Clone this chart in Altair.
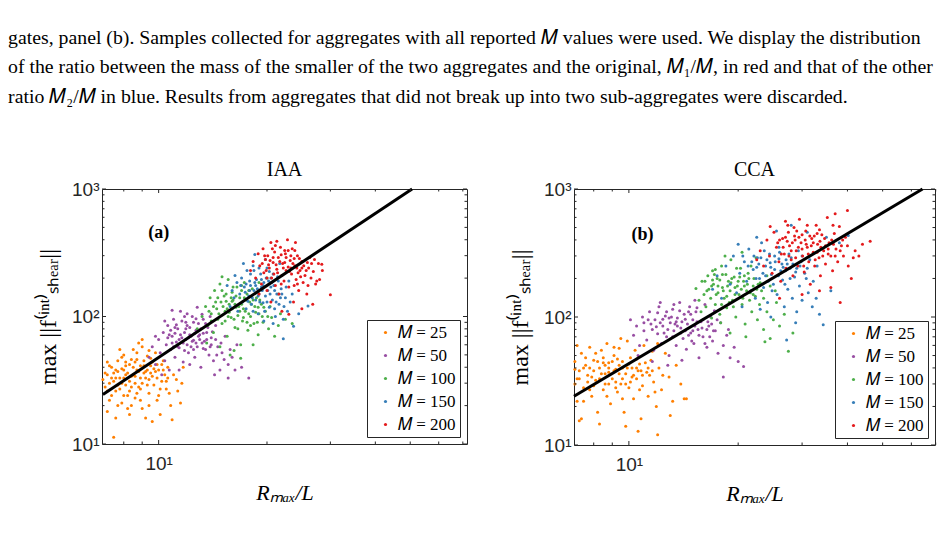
import altair as alt
import pandas as pd

# ---------------- data ----------------
groups = ["𝑀 = 25", "𝑀 = 50", "𝑀 = 100", "𝑀 = 150", "𝑀 = 200"]
colors = ["#FF7F00", "#984EA3", "#4DAF4A", "#377EB8", "#E41A1C"]

# IAA panel (a): (Rmax/L, max force)
iaa_m25 = [(7.1,28),(7.2,35),(7.3,22),(7.4,40),(7.2,18),(7.5,31),(7.6,26),(7.7,45),(7.8,33),(7.9,21),
           (8.0,38),(8.1,29),(8.0,50),(8.2,24),(8.3,42),(8.4,34),(8.3,17),(8.5,55),(8.6,30),(8.7,46),
           (8.6,23),(8.8,37),(8.9,27),(9.0,58),(9.1,41),(9.0,19),(9.2,33),(9.3,49),(9.4,25),(9.5,36),
           (9.6,44),(9.7,29),(9.8,52),(9.9,22),(10.0,38),(10.2,31),(10.3,45),(10.5,27),(10.6,40),(10.8,20),
           (11.0,35),(11.3,26),(11.6,30),(7.3,41),(7.6,16),(7.8,55),(8.1,44),(8.4,20),(8.8,62),(9.2,16),
           (9.6,15),(10.1,17),(7.5,11.3),(10.9,15.5),(11.5,21),(11.7,40),(8.2,36),(8.5,40),(8.9,33),(9.1,45),
           (9.3,38),(9.6,34),(8.4,28),(7.9,30),(7.7,37),(9.9,42),(10.4,35),(8.7,25),(9.0,66),(7.4,24),
           (7.2,26),(7.4,33),(7.6,38),(7.8,27),(8.0,33),(8.1,41),(8.3,31),(8.5,35),(8.6,44),(8.7,38),
           (8.9,41),(9.0,30),(9.2,37),(9.4,32),(9.5,47),(9.7,39),(9.9,33),(10.1,27),(10.3,38),(10.6,33),
           (7.3,30),(7.7,20),(8.2,19),(8.9,22),(9.4,20),(10.0,24),(10.7,25),(11.2,32),(7.1,36),(7.9,48),
           (7.0,32),(7.2,44),(7.5,36),(7.7,29),(7.9,39),(8.1,35),(8.3,26),(8.4,46),(8.6,34),(8.8,28),
           (9.1,36),(9.3,29),(9.5,41),(9.8,37),(10.2,42),(10.5,31),(7.6,33),(8.0,24),(8.7,52),(9.4,54)]
iaa_m50 = [(9.4,48),(9.6,58),(9.8,42),(10.0,66),(10.1,52),(10.3,75),(10.4,45),(10.5,60),(10.6,85),(10.7,38),
           (10.8,55),(10.9,70),(11.0,95),(11.1,48),(11.2,63),(11.3,80),(11.4,57),(11.5,110),(11.6,68),(11.7,44),
           (11.8,75),(11.9,90),(12.0,60),(12.1,52),(12.2,82),(12.3,70),(12.4,100),(12.5,65),(12.6,48),(12.7,78),
           (12.8,58),(12.9,88),(13.0,72),(13.1,40),(13.2,62),(13.3,95),(13.5,55),(13.6,75),(13.8,50),(14.0,68),
           (14.2,45),(14.4,85),(14.6,58),(14.8,38),(15.0,52),(15.3,70),(15.6,42),(15.6,33),(16.0,48),(16.5,60),
           (17.0,40),(17.8,33),(10.2,35),(10.9,112),(12.8,118),(13.9,100),(11.4,38),(12.2,42),(14.3,35),(9.8,70),
           (11.9,66),(12.6,74),(11.3,58),(13.4,64),(12.0,85),
           (10.6,68),(10.8,78),(11.0,58),(11.2,86),(11.5,72),(11.7,62),(11.8,100),(12.1,68),(12.3,58),(12.5,90),
           (12.7,62),(12.9,70),(13.1,80),(13.3,56),(13.6,66),(13.9,58),(14.1,76),(14.5,50),(11.1,82),(10.4,92),
           (12.0,105),(13.5,88),(14.9,62),(15.2,46),(16.3,38),
           (10.9,62),(11.1,74),(11.4,66),(11.6,92),(11.9,80),(12.2,72),(12.4,64),(12.7,96),(13.0,66),(13.3,74),
           (13.7,82),(14.0,60),(14.4,66),(12.5,55),(11.8,54),(10.7,72),(13.2,104),(15.8,55)]
iaa_m100 = [(13.2,100),(13.5,120),(13.7,85),(13.9,140),(14.0,105),(14.2,75),(14.3,160),(14.5,115),(14.6,95),(14.8,180),
            (14.9,130),(15.0,88),(15.2,145),(15.3,110),(15.5,70),(15.6,195),(15.7,125),(15.9,98),(16.0,155),(16.1,135),
            (16.3,82),(16.4,118),(16.5,170),(16.6,102),(16.8,140),(16.9,60),(17.0,125),(17.1,92),(17.3,185),(17.4,110),
            (17.6,150),(17.7,78),(17.9,130),(18.0,100),(18.2,165),(18.4,88),(18.5,120),(18.7,140),(18.9,72),(19.0,105),
            (19.3,125),(19.5,90),(19.8,110),(20.2,80),(20.6,98),(21.0,70),(21.5,85),(22.5,95),(23.5,88),(16.9,47),
            (16.2,54),(13.6,62),(14.8,58),(15.8,50),(12.8,80),(18.3,60),(20.0,200),(19.0,185),(15.0,205),(21.5,150),
            (16.0,115),(17.2,98),(15.4,132),
            (14.4,130),(14.7,105),(15.1,120),(15.4,150),(15.7,108),(16.0,132),(16.2,95),(16.4,145),(16.7,120),(17.0,160),
            (17.2,115),(17.5,135),(17.8,105),(18.1,125),(18.6,108),(19.1,135),(19.6,118),(20.1,100),(15.3,92),(16.6,80),
            (17.6,90),(14.0,92),(18.8,90),(13.8,110),
            (14.6,140),(15.0,160),(15.5,115),(15.9,140),(16.3,125),(16.8,110),(17.3,140),(17.8,160),(18.3,135),(18.9,118),
            (19.4,100),(16.1,170),(17.0,175),(15.6,100),(20.4,120),(18.0,85),(14.2,120),(21.8,105)]
iaa_m150 = [(15.8,120),(16.0,160),(16.2,140),(16.5,185),(16.6,110),(16.8,150),(17.0,200),(17.1,130),(17.3,170),(17.5,115),
            (17.6,230),(17.8,145),(18.0,175),(18.1,125),(18.3,250),(18.4,160),(18.6,135),(18.7,195),(18.9,105),(19.0,150),
            (19.2,215),(19.3,170),(19.5,128),(19.6,185),(19.8,145),(20.0,240),(20.1,160),(20.3,118),(20.5,200),(20.7,135),
            (20.9,175),(21.1,100),(21.3,150),(21.6,125),(21.9,165),(22.2,95),(22.5,140),(22.8,110),(23.2,130),(23.7,84),
            (22.2,67),(24.5,105),(26.0,121),(18.5,307),(17.2,260),(19.8,280),(16.3,210),(15.5,175),(20.8,88),(19.6,92),
            (21.7,260),(23.0,190),(18.8,165),(20.2,190),
            (17.4,155),(17.9,190),(18.2,140),(18.6,175),(19.1,130),(19.4,160),(19.9,200),(20.4,150),(20.8,215),(21.2,130),
            (21.5,190),(22.0,150),(18.0,215),(19.0,240),(20.5,170),(17.7,132),(22.6,170),(21.0,115),(19.7,110),(18.3,110),
            (17.9,160),(18.5,185),(18.9,145),(19.5,175),(20.0,130),(20.6,185),(21.0,160),(21.8,140),(19.3,195),(18.4,230),
            (20.3,225),(22.3,120),(17.5,180),(23.5,150),(16.9,175),(21.4,205)]
iaa_m200 = [(18.0,230),(18.3,270),(18.6,200),(18.9,310),(19.1,250),(19.3,180),(19.5,340),(19.6,220),(19.8,280),(20.0,160),
            (20.1,300),(20.3,240),(20.5,380),(20.6,200),(20.8,265),(21.0,320),(21.1,175),(21.3,235),(21.5,290),(21.6,150),
            (21.8,350),(22.0,210),(22.1,260),(22.3,190),(22.5,310),(22.6,230),(22.8,400),(23.0,170),(23.2,275),(23.4,215),
            (23.5,340),(23.7,130),(23.9,250),(24.1,195),(24.3,300),(24.5,160),(24.7,230),(25.0,270),(25.2,185),(25.5,210),
            (25.8,150),(26.1,240),(26.5,200),(26.8,125),(27.3,180),(27.8,260),(28.5,230),(30.0,148),(28.0,195),(26.3,290),
            (24.0,380),(21.3,390),(22.0,110),(23.0,104),(25.0,115),(19.0,150),(20.5,130),(28.4,257),(27.5,190),(22.9,245),
            (19.4,260),(19.9,230),(20.4,275),(20.9,215),(21.2,255),(21.7,270),(22.2,240),(22.6,290),(23.1,225),(23.6,260),
            (24.2,240),(24.8,205),(25.3,250),(25.7,230),(26.6,260),(21.9,180),(23.3,300),(20.7,340),(22.4,330),(24.6,285),
            (23.8,175),(26.0,175),
            (19.7,300),(20.2,255),(20.8,290),(21.4,220),(21.9,305),(22.4,265),(22.9,330),(23.3,240),(23.8,285),(24.4,220),
            (25.0,240),(25.9,265),(26.9,225),(20.0,200),(21.1,360),(23.9,330),(27.1,280),(24.3,180)]

# CCA panel (b)
cca_m25 = [(7.1,30),(7.1,45),(7.2,22),(7.3,38),(7.4,52),(7.4,16),(7.5,28),(7.6,42),(7.7,35),(7.8,58),
           (7.9,24),(8.0,46),(8.1,32),(8.2,18),(8.3,40),(8.4,55),(8.5,27),(8.6,36),(8.7,62),(8.8,44),
           (8.9,21),(9.0,33),(9.1,50),(9.2,39),(9.3,26),(9.4,57),(9.5,30),(9.6,45),(9.7,18),(9.8,36),
           (9.9,65),(10.0,28),(10.1,48),(10.2,40),(10.3,23),(10.4,55),(10.5,33),(10.7,43),(10.8,16),(10.9,29),
           (11.0,60),(11.2,37),(11.3,24),(11.5,46),(11.7,31),(11.9,20),(12.1,40),(12.3,27),(12.6,52),(12.9,34),
           (13.2,22),(13.5,42),(13.9,30),(14.4,23),(12.0,12.0),(10.6,12.8),(8.3,14.6),(7.3,15.5),(9.8,14),(13.0,17),
           (10.6,38),(8.8,30),(9.4,42),(7.9,34),(11.6,54),(12.0,62),(9.5,68),(7.2,60),(8.5,48),(14.2,23),
           (7.3,33),(7.6,48),(7.8,40),(8.0,29),(8.2,45),(8.4,36),(8.6,42),(8.8,37),(9.0,45),(9.2,31),
           (9.4,36),(9.6,40),(9.8,30),(10.0,43),(10.3,35),(10.5,47),(10.8,38),(11.1,44),(11.4,35),(8.1,52),
           (7.5,22),(8.7,24),(9.6,23),(10.7,27),(12.4,35),(11.8,26),(7.1,39),(9.1,58),
           (7.2,33),(7.5,40),(7.7,31),(8.0,38),(8.3,33),(8.5,44),(8.8,40),(9.1,38),(9.3,47),(9.6,33),
           (9.9,40),(10.2,34),(10.5,40),(10.9,35),(11.3,40),(8.6,30),(9.2,28),(10.1,31),(7.8,27),(11.6,38)]
cca_m50 = [(10.1,95),(10.3,72),(10.5,85),(10.7,60),(10.9,100),(11.0,78),(11.2,66),(11.4,110),(11.5,88),(11.7,55),
           (11.8,95),(12.0,74),(12.1,120),(12.3,62),(12.4,85),(12.6,102),(12.7,70),(12.9,50),(13.0,90),(13.2,115),
           (13.3,78),(13.5,60),(13.6,98),(13.8,130),(13.9,82),(14.1,68),(14.2,105),(14.4,56),(14.5,88),(14.7,120),
           (14.8,75),(15.0,95),(15.1,62),(15.3,110),(15.5,80),(15.6,48),(15.8,92),(16.0,70),(16.2,125),(16.4,58),
           (16.6,85),(16.8,100),(17.0,65),(17.3,78),(17.6,52),(17.9,90),(18.2,60),(18.6,72),(19.0,48),(19.5,58),
           (20.0,45),(20.7,41),(11.6,45),(12.8,42),(14.0,46),(17.2,112),(18.8,80),(12.2,130),(15.2,135),(10.6,50),
           (18.2,34),(13.4,88),(14.6,72),
           (11.6,80),(12.2,90),(12.5,75),(12.9,98),(13.2,70),(13.6,85),(14.0,92),(14.3,78),(14.8,105),(15.2,85),
           (15.6,72),(16.0,95),(16.4,80),(16.9,88),(12.0,108),(13.8,112),(15.4,118),(11.0,90),(17.5,95),(16.2,62),
           (11.3,95),(11.9,84),(12.4,96),(12.8,80),(13.1,100),(13.5,92),(13.9,75),(14.3,96),(14.6,110),(15.0,78),
           (15.4,92),(15.9,82),(16.5,92),(17.1,78),(12.7,110),(14.9,65),(16.7,70),(13.3,125)]
cca_m100 = [(15.3,167),(15.6,135),(15.9,190),(16.1,150),(16.3,120),(16.5,210),(16.6,165),(16.8,140),(17.0,230),(17.1,180),
            (17.3,125),(17.5,200),(17.6,155),(17.8,105),(18.0,250),(18.1,170),(18.3,140),(18.5,215),(18.6,118),(18.8,190),
            (19.0,160),(19.1,280),(19.3,135),(19.5,205),(19.7,100),(19.9,175),(20.1,150),(20.3,240),(20.5,125),(20.7,190),
            (20.9,88),(21.1,160),(21.3,220),(21.5,135),(21.8,110),(22.0,175),(22.3,145),(22.6,95),(22.9,125),(23.2,160),
            (23.5,80),(23.7,64),(24.0,110),(24.5,68),(25.0,95),(25.5,130),(26.0,85),(26.8,105),(27.5,54),(28.3,75),
            (17.9,90),(19.0,75),(16.9,98),(20.5,320),(22.4,290),(18.4,300),(24.0,210),(21.0,70),(25.3,160),(15.8,110),
            (16.9,175),(17.4,150),(17.8,195),(18.2,160),(18.7,175),(19.2,200),(19.6,150),(20.0,190),(20.4,165),(20.8,210),
            (21.2,180),(21.6,155),(22.1,200),(22.5,165),(23.0,185),(18.9,130),(20.6,140),(19.8,240),(17.2,215),(16.2,190),
            (16.4,160),(17.0,195),(17.6,175),(18.1,215),(18.6,145),(19.1,185),(19.6,170),(20.2,205),(20.8,175),(21.4,200),
            (22.0,150),(22.7,180),(18.0,125),(19.4,120),(21.7,250),(23.5,140),(17.3,235),(24.5,175)]
cca_m150 = [(17.0,165),(17.5,210),(18.0,140),(18.5,250),(19.0,180),(19.4,300),(19.8,155),(20.2,220),(20.5,120),(20.8,270),
            (21.1,190),(21.4,340),(21.7,160),(22.0,235),(22.3,140),(22.6,290),(22.9,200),(23.2,380),(23.5,170),(23.8,250),
            (24.1,130),(24.4,310),(24.7,215),(25.0,180),(25.3,270),(25.6,150),(25.9,350),(26.2,230),(26.5,195),(26.8,120),
            (27.1,280),(27.4,165),(27.8,240),(28.2,140),(28.6,205),(29.0,110),(29.5,175),(30.0,135),(30.5,220),(31.2,155),
            (32.0,120),(32.8,140),(33.5,105),(34.3,87),(27.2,66),(28.8,90),(24.6,100),(36.0,160),(40.2,433),(38.0,380),
            (35.0,420),(31.0,460),(28.0,520),(25.5,470),(22.5,420),(20.0,370),(30.0,300),(33.0,250),(29.3,330),(23.0,115),
            (21.3,250),(22.1,300),(22.8,260),(23.4,220),(24.0,280),(24.6,245),(25.2,300),(25.8,210),(26.4,260),(27.0,230),
            (27.6,310),(28.3,260),(29.0,240),(29.8,270),(31.0,240),(32.2,190),(24.8,160),(26.9,180),(23.6,330),(20.6,300),
            (21.8,270),(22.5,245),(23.1,290),(23.8,210),(24.5,265),(25.2,235),(25.9,285),(26.6,245),(27.3,260),(28.0,290),
            (28.8,225),(29.6,250),(30.8,200),(26.0,320),(24.2,190),(27.8,200),(22.4,200),(31.5,280)]
cca_m200 = [(22.5,280),(23.0,330),(23.5,250),(24.0,400),(24.4,300),(24.8,220),(25.1,460),(25.5,350),(25.9,270),(26.2,190),
            (26.5,410),(26.8,310),(27.1,240),(27.4,520),(27.7,360),(28.0,280),(28.3,210),(28.6,430),(28.9,330),(29.2,250),
            (29.5,580),(29.8,380),(30.1,300),(30.4,225),(30.7,470),(31.0,350),(31.3,270),(31.6,180),(31.9,410),(32.2,320),
            (32.5,250),(32.8,520),(33.1,370),(33.4,290),(33.7,210),(34.0,440),(34.4,330),(34.8,260),(35.2,600),(35.6,380),
            (36.0,300),(36.4,230),(36.8,450),(37.2,340),(37.6,270),(38.0,510),(38.5,360),(39.0,300),(39.5,420),(40.2,250),
            (41.0,200),(42.0,330),(44.0,370),(46.2,390),(38.2,130),(36.0,170),(33.5,160),(30.0,150),(26.0,140),(40.0,680),
            (37.0,640),(27.0,560),(24.5,510),(29.0,470),(43.0,300),
            (25.7,380),(26.3,310),(27.0,420),(27.6,300),(28.2,380),(28.8,290),(29.4,420),(30.0,340),(30.6,400),(31.2,310),
            (31.8,360),(32.4,430),(33.0,320),(33.6,390),(34.2,300),(34.8,360),(35.4,310),(36.2,400),(37.0,300),(38.2,330),
            (40.0,360),(41.5,290),(30.3,250),(32.6,280),(28.5,500),
            (26.0,400),(26.6,350),(27.3,390),(28.0,330),(28.7,400),(29.3,350),(30.0,440),(30.8,370),(31.5,430),(32.2,380),
            (33.0,450),(33.8,350),(34.6,410),(35.4,340),(36.6,370),(27.5,460),(31.0,520),(33.5,480),(38.8,400),(36.5,520)]

# fitted power-law lines (end points)
iaa_fit = [(7.0, 24.4), (50.6, 1000)]
cca_fit = [(7.06, 24.0), (64.4, 1000)]

panel_titles = ["IAA", "CCA"]
panel_tags = ["(a)", "(b)"]
tag_pos = [(10.0, 450), (10.9, 440)]
x_domains = [[6.96, 71.9], [7.06, 69.7]]
y_domain = [10, 1000]
x_major = [10]
x_minor = [8, 9, 20, 30, 40, 50, 60, 70]
y_major = [10, 100, 1000]
y_minor = [20, 30, 40, 50, 60, 70, 80, 90, 200, 300, 400, 500, 600, 700, 800, 900]

caption = [
    "gates, panel (b). Samples collected for aggregates with all reported 𝑀 values were used. We display the distribution",
    "of the ratio between the mass of the smaller of the two aggregates and the original, 𝑀₁/𝑀, in red and that of the other",
    "ratio 𝑀₂/𝑀 in blue. Results from aggregates that did not break up into two sub-aggregates were discarded.",
]

# ---------------- chart ----------------
FRAME = "#262626"
SERIF = "Liberation Serif"
SANS = "Liberation Sans"
MAJOR, MINOR = 4, 2.5


def to_df(series):
    rows = []
    for k, pts in enumerate(series):
        for x, y in pts:
            rows.append({"x": x, "y": y, "grp": groups[k], "k": k})
    return pd.DataFrame(rows)


def panel(series, fit, title, tag, tpos, xdom, width, height):
    xs = alt.Scale(type="log", domain=xdom, nice=False)
    ys = alt.Scale(type="log", domain=y_domain, nice=False)
    color = alt.Scale(domain=groups, range=colors)

    common = dict(domain=False, ticks=False, grid=False, labelOverlap=False, labelFlush=False)
    ax_bottom = alt.Axis(orient="bottom", values=x_major,
                         labelExpr="datum.value == 10 ? '10¹' : ''",
                         labelFont=SANS, labelFontSize=19, labelColor=FRAME, labelPadding=10,
                         title="Rₘₐₓ/L", titleFont=SERIF, titleFontSize=22, titleFontStyle="italic",
                         titleFontWeight="normal", titleColor="black", titlePadding=9, **common)
    ax_left = alt.Axis(orient="left", values=y_major,
                       labelExpr="datum.value == 10 ? '10¹' : datum.value == 100 ? '10²' : '10³'",
                       labelFont=SANS, labelFontSize=19, labelColor=FRAME, labelPadding=3,
                       title="max ||f⁽ⁱⁿᵗ⁾ₛₕₑₐᵣ||", titleFont=SERIF, titleFontSize=24,
                       titleFontWeight="normal", titleColor="black", titlePadding=11, **common)

    pts = alt.Chart(to_df(series)).mark_circle(size=9, opacity=1).encode(
        x=alt.X("x:Q", scale=xs, axis=ax_bottom),
        y=alt.Y("y:Q", scale=ys, axis=ax_left),
        color=alt.Color("grp:N", scale=color, sort=groups, legend=alt.Legend(
            title=None, orient="bottom-right", offset=7, strokeColor=FRAME, fillColor="white",
            padding=4, symbolType="circle", symbolSize=10, symbolStrokeWidth=0, symbolOffset=6,
            labelFont=SERIF, labelFontSize=17, labelColor="black", rowPadding=5, labelOffset=4)),
        order=alt.Order("k:Q"),
    )
    line = alt.Chart(pd.DataFrame(fit, columns=["x", "y"])).mark_line(
        color="black", strokeWidth=3).encode(
        x=alt.X("x:Q", scale=xs, axis=None),
        y=alt.Y("y:Q", scale=ys, axis=None),
    )
    lab = alt.Chart(pd.DataFrame([{"x": tpos[0], "y": tpos[1], "t": tag}])).mark_text(
        font=SERIF, fontSize=18, fontWeight="bold", color="black").encode(
        x=alt.X("x:Q", scale=xs, axis=None),
        y=alt.Y("y:Q", scale=ys, axis=None),
        text="t:N",
    )

    # inward tick marks on all four sides (MATLAB style)
    def yticks(vals, x0, x1):
        return alt.Chart(pd.DataFrame({"v": vals})).mark_rule(color=FRAME, strokeWidth=1).encode(
            y=alt.Y("v:Q", scale=ys, axis=None), x=alt.value(x0), x2=alt.value(x1))

    def xticks(vals, y0, y1):
        return alt.Chart(pd.DataFrame({"v": vals})).mark_rule(color=FRAME, strokeWidth=1).encode(
            x=alt.X("v:Q", scale=xs, axis=None), y=alt.value(y0), y2=alt.value(y1))

    ticks = [
        yticks(y_major, 0, MAJOR), yticks(y_minor, 0, MINOR),
        yticks(y_major, width - MAJOR, width), yticks(y_minor, width - MINOR, width),
        xticks(x_major, height - MAJOR, height), xticks(x_minor, height - MINOR, height),
        xticks(x_major, 0, MAJOR), xticks(x_minor, 0, MINOR),
    ]

    return alt.layer(pts, line, lab, *ticks).resolve_axis(x="independent", y="independent").properties(
        width=width, height=height,
        title=alt.TitleParams(title, font=SERIF, fontSize=20, fontWeight="normal", color="black", offset=0),
    )


left = panel([iaa_m25, iaa_m50, iaa_m100, iaa_m150, iaa_m200], iaa_fit, panel_titles[0], panel_tags[0],
             tag_pos[0], x_domains[0], 365, 255)
right = panel([cca_m25, cca_m50, cca_m100, cca_m150, cca_m200], cca_fit, panel_titles[1], panel_tags[1],
              tag_pos[1], x_domains[1], 361, 256)

chart = alt.hconcat(left, right, spacing=40).resolve_legend(color="independent").resolve_scale(
    color="independent").properties(
    title=alt.TitleParams(caption, anchor="start", font=SERIF, fontSize=19.8, fontWeight="normal",
                          color="black", lineHeight=29.5, offset=53, dx=-28),
    padding={"left": 8, "top": 27, "right": 3, "bottom": 3},
).configure(background="white").configure_view(stroke=FRAME, strokeWidth=1)

chart.save("out.html", embed_options={"renderer": "svg", "actions": False})
